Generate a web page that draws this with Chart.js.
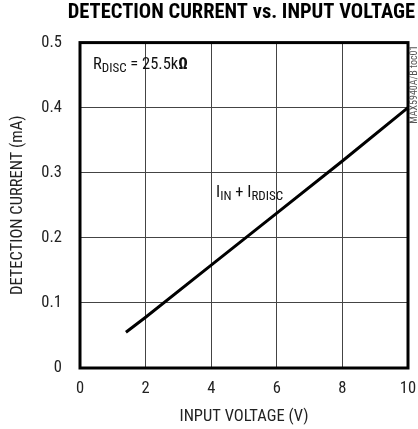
<!DOCTYPE html>
<html><head><meta charset="utf-8">
<script src="https://cdn.jsdelivr.net/npm/chart.js@4/dist/chart.umd.min.js"></script>
<style>html,body{margin:0;padding:0;background:#fff}#wrap{width:418px;height:429px}</style>
</head><body><div id="wrap"><canvas id="c" width="418" height="429"></canvas></div>
<script>
const inputVoltage = [1.4, 2, 4, 6, 8, 10];
const detectionCurrent = [0.055, 0.078, 0.158, 0.238, 0.318, 0.4];
const xTicks = [0, 2, 4, 6, 8, 10];
const yTicks = [0, 0.1, 0.2, 0.3, 0.4, 0.5];

const FONT = "'Roboto Condensed', 'DejaVu Sans Condensed', sans-serif";

const frame = {
  id: 'frame',
  afterDatasetsDraw(chart) {
    const {ctx, chartArea: a} = chart;
    ctx.save();
    ctx.strokeStyle = '#000';
    ctx.lineWidth = 3;
    ctx.strokeRect(a.left, a.top, a.right - a.left, a.bottom - a.top);
    ctx.restore();
  },
  afterDraw(chart) {
    const {ctx, chartArea: a} = chart;
    ctx.save();
    ctx.fillStyle = '#111';
    // R_DISC label
    let x = a.left + 13, y = a.top + 26;
    ctx.textBaseline = 'alphabetic';
    ctx.font = '16.5px ' + FONT;
    ctx.fillText('R', x, y); x += ctx.measureText('R').width;
    ctx.font = '13px ' + FONT;
    ctx.fillText('DISC', x, y + 3); x += ctx.measureText('DISC').width;
    ctx.font = '16.5px ' + FONT;
    ctx.fillText(' = 25.5k', x, y); x += ctx.measureText(' = 25.5k').width;
    ctx.font = 'bold 16.5px ' + FONT;
    ctx.fillText('\u03A9', x, y);
    // I_IN + I_RDISC
    const sx = chart.scales.x, sy = chart.scales.y;
    x = sx.getPixelForValue(4.15); y = sy.getPixelForValue(0.263);
    ctx.font = '16.5px ' + FONT;
    ctx.fillText('I', x, y); x += ctx.measureText('I').width;
    ctx.font = '13px ' + FONT;
    ctx.fillText('IN', x, y + 3); x += ctx.measureText('IN').width;
    ctx.font = '16.5px ' + FONT;
    ctx.fillText(' + I', x, y); x += ctx.measureText(' + I').width;
    ctx.font = '13px ' + FONT;
    ctx.fillText('RDISC', x, y + 3);
    // side label
    ctx.font = '10px ' + FONT;
    ctx.fillStyle = '#555';
    ctx.translate(414, a.top + 3);
    ctx.rotate(-Math.PI / 2);
    ctx.textAlign = 'right';
    ctx.textBaseline = 'middle';
    ctx.fillText('MAX5940A/B toc01', 0, 0);
    ctx.restore();
  }
};

new Chart(document.getElementById('c'), {
  type: 'scatter',
  data: {
    datasets: [{
      data: inputVoltage.map((v, i) => ({x: v, y: detectionCurrent[i]})),
      showLine: true,
      borderColor: '#000',
      borderWidth: 3,
      pointRadius: 0,
      tension: 0
    }]
  },
  options: {
    responsive: false,
    animation: false,
    layout: {padding: {left: 0, right: 3, top: 0, bottom: 0}},
    plugins: {
      legend: {display: false},
      tooltip: {enabled: false},
      title: {
        display: true,
        align: 'end',
        text: 'DETECTION CURRENT vs. INPUT VOLTAGE',
        color: '#000',
        font: {family: FONT, size: 20.5, weight: 'bold'},
        padding: {top: 1, bottom: 17}
      }
    },
    scales: {
      x: {
        type: 'linear', min: 0, max: 10,
        afterBuildTicks: s => { s.ticks = xTicks.map(v => ({value: v})); },
        afterFit: s => { s.height = 61; s.paddingLeft = 0; s.paddingRight = 10; },
        grid: {color: '#444', lineWidth: 1, drawTicks: false},
        border: {display: false},
        ticks: {color: '#222', font: {family: FONT, size: 16.5}, padding: 11},
        title: {display: true, text: 'INPUT VOLTAGE (V)', color: '#222', font: {family: FONT, size: 16.5}, padding: {top: 4, bottom: 2}}
      },
      y: {
        type: 'linear', min: 0, max: 0.5,
        afterBuildTicks: s => { s.ticks = yTicks.map(v => ({value: v})); },
        afterFit: s => { s.width = 80; },
        grid: {color: '#444', lineWidth: 1, drawTicks: false},
        border: {display: false},
        ticks: {color: '#222', font: {family: FONT, size: 16.5}, padding: 18, callback: v => String(v)},
        title: {display: true, text: 'DETECTION CURRENT (mA)', color: '#222', font: {family: FONT, size: 16.5}, padding: {top: 8, bottom: 4}}
      }
    }
  },
  plugins: [frame]
});
</script></body></html>
